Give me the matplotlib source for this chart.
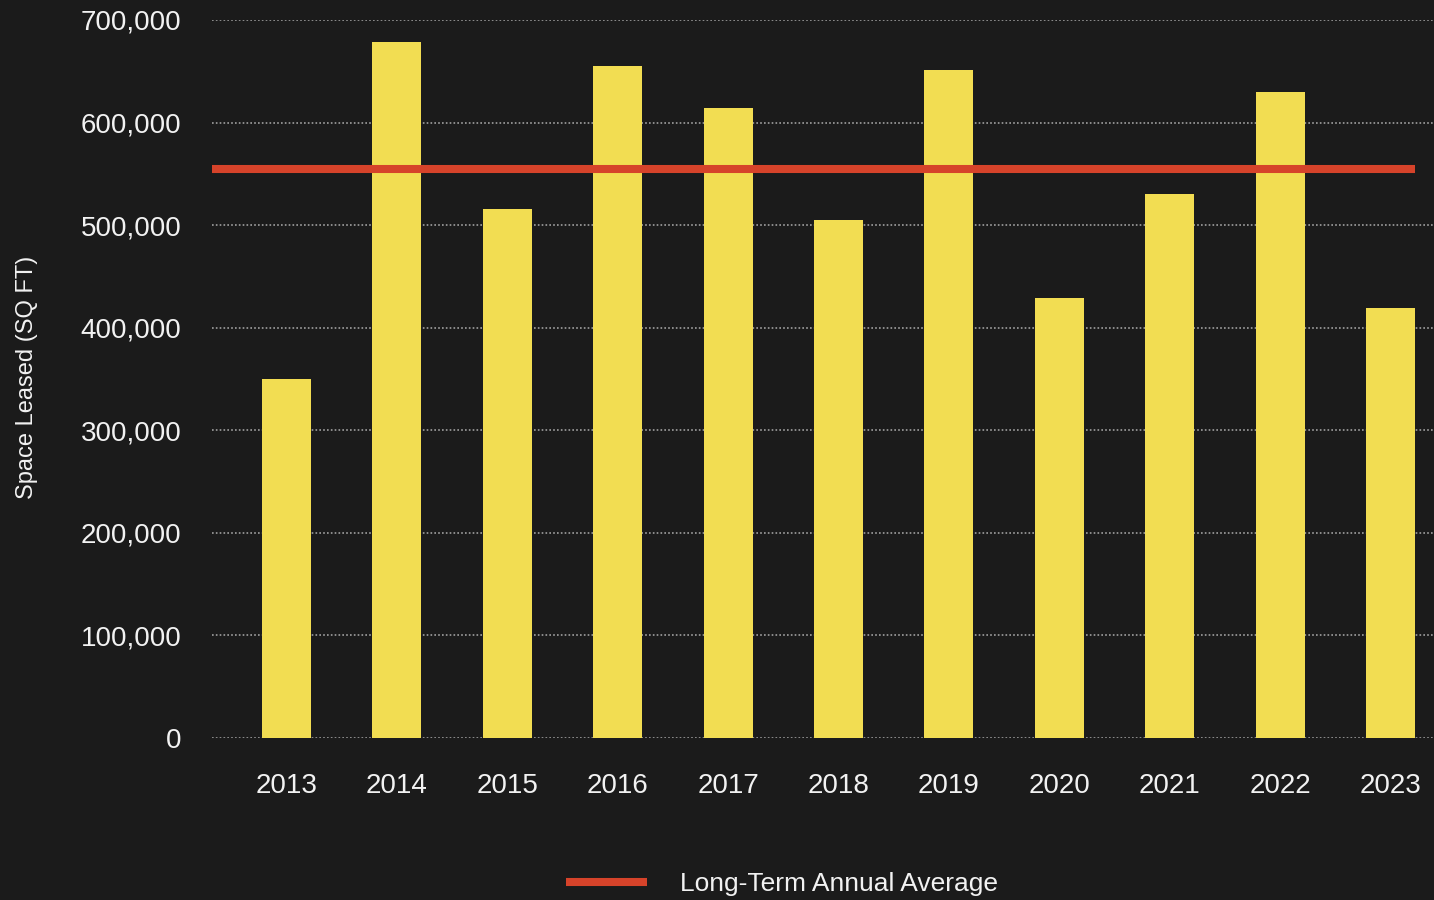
import matplotlib
matplotlib.use("Agg")
import matplotlib.pyplot as plt
from matplotlib.ticker import FuncFormatter

# Annual leasing volume and the long-term average
years = ["2013", "2014", "2015", "2016", "2017", "2018", "2019", "2020", "2021", "2022", "2023"]
space_leased = [350000, 679000, 516000, 655000, 614000, 505000, 651000, 429000, 530000, 630000, 419000]
long_term_average = 555000
y_ticks = [0, 100000, 200000, 300000, 400000, 500000, 600000, 700000]

BG = "#1b1b1b"
BAR = "#f2dd52"
AVG = "#d6432a"
TEXT = "#f2f2f2"
GRID = "#a0a0a0"

plt.rcParams["font.family"] = ["Liberation Sans", "DejaVu Sans"]

W, H = 1434, 900
fig = plt.figure(figsize=(W / 100, H / 100), dpi=100, facecolor=BG)

left_px, right_px, top_px, bottom_px = 212, 1434, 20, 738
ax = fig.add_axes([left_px / W, 1 - bottom_px / H,
                   (right_px - left_px) / W, (bottom_px - top_px) / H])
ax.set_facecolor(BG)

x = list(range(len(years)))
bar_width = 0.444
ax.bar(x, space_leased, width=bar_width, color=BAR, zorder=2)

ax.set_xlim(-0.675, 10.394)
ax.set_ylim(0, 700000)

# long-term average line, running from the axis to the last bar
ax.hlines(long_term_average, -0.675, x[-1] + bar_width / 2, color=AVG,
          linewidth=5.8, zorder=3, label="Long-Term Annual Average")

ax.set_yticks(y_ticks)
ax.yaxis.set_major_formatter(FuncFormatter(lambda v, p: f"{int(v):,}"))
ax.set_xticks(x)
ax.set_xticklabels(years)

ax.tick_params(axis="y", length=0, pad=22, labelsize=20, labelcolor=TEXT)
ax.tick_params(axis="x", length=0, pad=25, labelsize=20, labelcolor=TEXT)

ax.grid(axis="y", color=GRID, linestyle=(0, (1, 1.3)), linewidth=1.2, zorder=1)
ax.grid(axis="x", visible=False)
for s in ax.spines.values():
    s.set_visible(False)

fig.text(27 / W, 1 - 377 / H, "Space Leased (SQ FT)", rotation=90,
         ha="center", va="center", fontsize=17, color=TEXT)

leg = ax.legend(loc="center", bbox_to_anchor=(782 / W, 1 - 884 / H),
                bbox_transform=fig.transFigure, frameon=False, fontsize=19,
                handlelength=3.1, handletextpad=1.25, labelcolor=TEXT)

fig.savefig("out.png", dpi=100, facecolor=BG)
